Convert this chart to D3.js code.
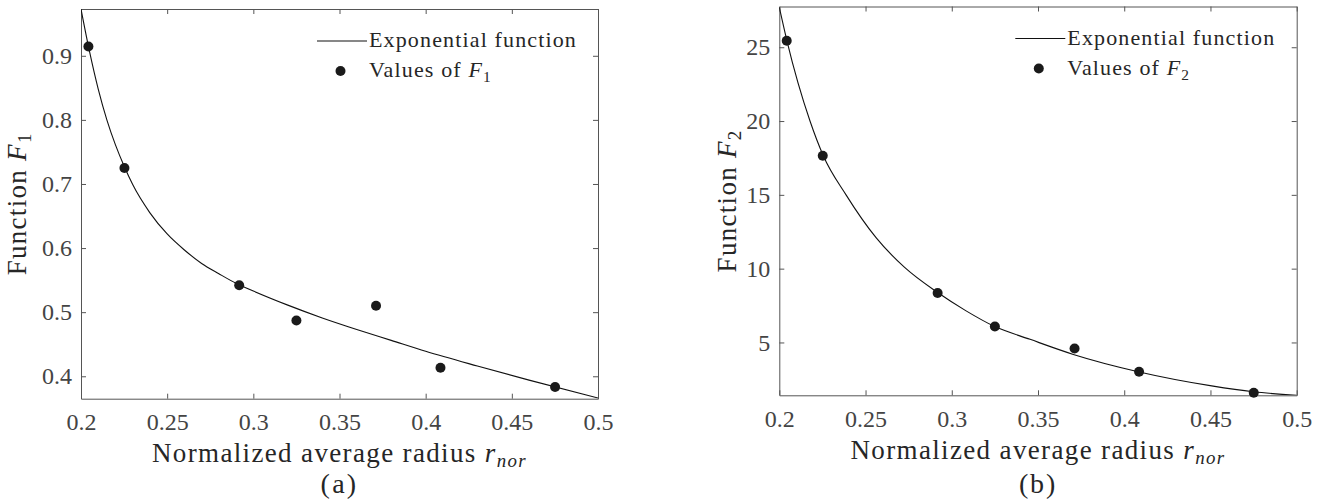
<!DOCTYPE html>
<html>
<head>
<meta charset="utf-8">
<script src="https://cdn.jsdelivr.net/npm/d3@7"></script>
<style>
  body { margin: 0; background: #fff; }
  .tick line, .domain { stroke: #555; }
</style>
</head>
<body>
<svg id="chart" width="1327" height="502" font-family="Liberation Serif"></svg>
<script>
"use strict";

// /////// DATA

// measured samples: normalized average radius
const rNor = [0.2043, 0.2252, 0.2918, 0.325, 0.3712, 0.4086, 0.4751];
const valuesF1 = [0.9145, 0.725, 0.542, 0.487, 0.51, 0.4134, 0.3833];
const valuesF2 = [25.44, 17.65, 8.35, 6.08, 4.59, 3.02, 1.59];

// fitted exponential curves
const fitX1 = [0.2, 0.205, 0.21, 0.215, 0.22, 0.225, 0.23, 0.24, 0.25, 0.26, 0.27,
  0.28, 0.29, 0.3, 0.32, 0.34, 0.36, 0.38, 0.4, 0.43, 0.46, 0.5];
const fitF1 = [0.973, 0.906, 0.848, 0.8, 0.761, 0.728, 0.699, 0.655, 0.622, 0.597, 0.576,
  0.56, 0.545, 0.533, 0.511, 0.491, 0.473, 0.456, 0.439, 0.416, 0.394, 0.366];

const fitX2 = [0.2, 0.2045, 0.2178, 0.2255, 0.2387, 0.2561, 0.2725, 0.2918, 0.3083,
  0.3247, 0.3454, 0.3705, 0.4081, 0.4507, 0.4748, 0.5];
const fitF2 = [27.7, 25.4, 20.0, 17.65, 15.0, 12.1, 10.1, 8.38, 7.14,
  6.09, 5.21, 4.19, 3.02, 2.06, 1.66, 1.42];

// axes
const xDomain = [0.2, 0.5];
const xTicks = [0.2, 0.25, 0.3, 0.35, 0.4, 0.45, 0.5];
const yDomainF1 = [0.365, 0.973];
const yTicksF1 = [0.4, 0.5, 0.6, 0.7, 0.8, 0.9];
const yDomainF2 = [1.42, 27.76];
const yTicksF2 = [5, 10, 15, 20, 25];

// /////// LAYOUT

const FONT = "Liberation Serif";

const panels = [
  {
    left: 81, top: 9, width: 517, height: 389.7,
    xs: fitX1, ys: fitF1, pts: valuesF1,
    yDomain: yDomainF1, yTicks: yTicksF1,
    yLabelX: 25.5, xPad: 14, sub: "1", title: "(a)",
  },
  {
    left: 779.3, top: 6.5, width: 517.4, height: 388.8,
    xs: fitX2, ys: fitF2, pts: valuesF2,
    yDomain: yDomainF2, yTicks: yTicksF2,
    yLabelX: 735.5, xPad: 15, sub: "2", title: "(b)",
  },
];

const svg = d3.select("#chart");

// /////// FUNCTIONS

// Spreads letters so the text spans the width measured on the reference
const fitSpacing = function (sel, target) {
  const node = sel.node();
  const w = node.getComputedTextLength();
  const n = node.textContent.length;
  if (w > 0 && n > 1) sel.attr("letter-spacing", (target - w) / n);
};

// Builds "F" + subscript inside a text element
const addF = function (text, sub) {
  text.append("tspan").attr("font-style", "italic").text("F");
  text.append("tspan").attr("dy", 5).attr("font-size", "0.7em").text(sub);
};

const drawPanel = function (p, i) {
  const g = svg
    .append("g")
    .attr("transform", `translate(${p.left}, ${p.top})`);

  const x = d3.scaleLinear().domain(xDomain).range([0, p.width]);
  const y = d3.scaleLinear().domain(p.yDomain).range([p.height, 0]);

  // Axes (ticks pointing inward on all four sides)
  const xAxis = g.append("g")
    .attr("transform", `translate(0, ${p.height})`)
    .call(d3.axisBottom(x).tickValues(xTicks).tickSize(-5).tickSizeOuter(0)
      .tickPadding(p.xPad).tickFormat(d3.format("~g")));
  g.append("g")
    .call(d3.axisTop(x).tickValues(xTicks).tickSize(-5).tickSizeOuter(0)
      .tickFormat(""));
  const yAxis = g.append("g")
    .call(d3.axisLeft(y).tickValues(p.yTicks).tickSize(-5).tickSizeOuter(0)
      .tickPadding(9).tickFormat(d3.format("~g")));
  g.append("g")
    .attr("transform", `translate(${p.width}, 0)`)
    .call(d3.axisRight(y).tickValues(p.yTicks).tickSize(-5).tickSizeOuter(0)
      .tickFormat(""));

  [xAxis, yAxis].forEach((ax) => {
    ax.attr("font-family", FONT).attr("font-size", 24);
    ax.selectAll(".tick text").attr("fill", "#444");
  });

  // Clip for the fitted curve
  g.append("clipPath")
    .attr("id", `clip${i}`)
    .append("rect")
    .attr("width", p.width)
    .attr("height", p.height);

  const line = d3
    .line()
    .x((d) => x(d[0]))
    .y((d) => y(d[1]))
    .curve(d3.curveMonotoneX);

  g.append("path")
    .datum(p.xs.map((v, k) => [v, p.ys[k]]))
    .attr("clip-path", `url(#clip${i})`)
    .attr("d", line)
    .attr("fill", "none")
    .attr("stroke", "#111")
    .attr("stroke-width", 1.1);

  g.selectAll(".dot")
    .data(rNor.map((v, k) => [v, p.pts[k]]))
    .join("circle")
    .attr("class", "dot")
    .attr("cx", (d) => x(d[0]))
    .attr("cy", (d) => y(d[1]))
    .attr("r", 5)
    .attr("fill", "#1a1a1a");

  // Legend (no box)
  const lg = g.append("g").attr("transform", "translate(236, 32)");
  lg.append("line")
    .attr("x1", 0).attr("x2", 50)
    .attr("stroke", "#111").attr("stroke-width", 1.1);
  const et = lg.append("text")
    .attr("x", 52).attr("y", 6)
    .attr("font-family", FONT)
    .attr("font-size", 22)
    .attr("fill", "#262626")
    .text("Exponential function");
  fitSpacing(et, 208);
  lg.append("circle").attr("cx", 23.5).attr("cy", 30).attr("r", 5).attr("fill", "#1a1a1a");
  const vt = lg.append("text")
    .attr("x", 52).attr("y", 36)
    .attr("font-family", FONT)
    .attr("font-size", 22)
    .attr("letter-spacing", et.attr("letter-spacing"))
    .attr("fill", "#262626");
  vt.append("tspan").text("Values of ");
  addF(vt, p.sub);

  // X label
  const cx = p.left + p.width / 2;
  const xl = svg.append("text")
    .attr("x", cx).attr("y", p.top + p.height + 63.5)
    .attr("text-anchor", "middle")
    .attr("font-family", FONT)
    .attr("font-size", 27)
    .attr("fill", "#262626");
  xl.append("tspan").text("Normalized average radius ");
  xl.append("tspan").attr("font-style", "italic").text("r");
  xl.append("tspan").attr("font-style", "italic").attr("font-size", "0.7em")
    .attr("dy", 5).text("nor");
  fitSpacing(xl, 375);

  // Y label
  const yl = svg.append("text")
    .attr("transform", `translate(${p.yLabelX}, ${p.top + p.height / 2}) rotate(-90)`)
    .attr("text-anchor", "middle")
    .attr("font-family", FONT)
    .attr("font-size", 27)
    .attr("fill", "#262626");
  yl.append("tspan").text("Function ");
  addF(yl, p.sub);
  fitSpacing(yl, 143);

  // Panel caption
  const cap = svg.append("text")
    .attr("x", cx).attr("y", 493)
    .attr("text-anchor", "middle")
    .attr("font-family", FONT)
    .attr("font-size", 28)
    .attr("fill", "#262626")
    .text(p.title);
  fitSpacing(cap, 38);
};

panels.forEach(drawPanel);
</script>
</body>
</html>
